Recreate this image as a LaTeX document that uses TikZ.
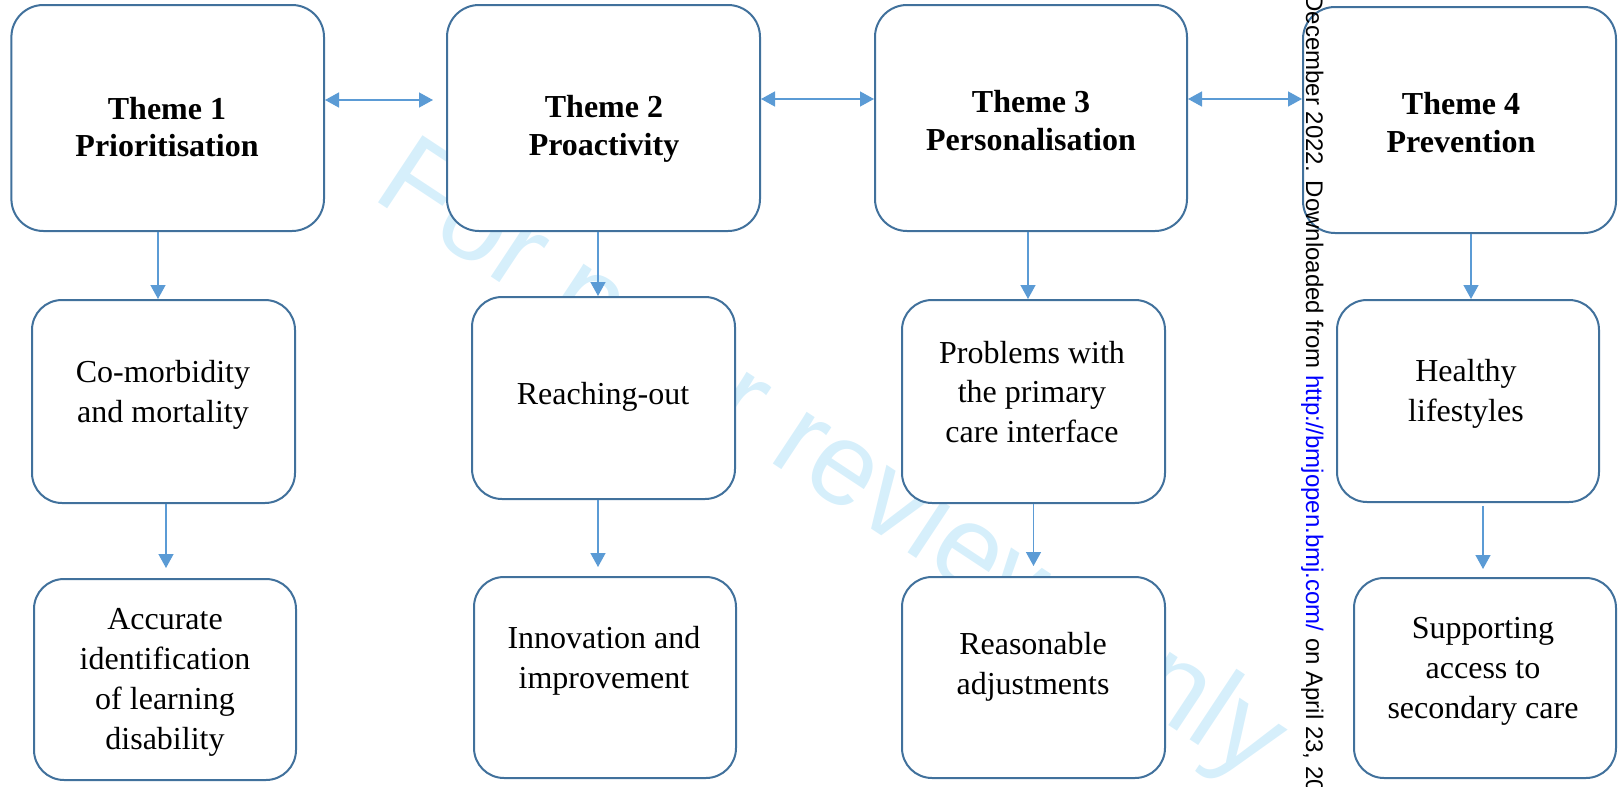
\documentclass[tikz,border=0pt]{standalone}
\usepackage{fontspec}
\setmainfont{Liberation Serif}
\newfontfamily\sansfam{Liberation Sans}
\usetikzlibrary{arrows.meta}
\definecolor{boxline}{RGB}{65,113,156}
\definecolor{arrowblue}{RGB}{91,155,213}
\definecolor{wmblue}{RGB}{214,239,251}

\begin{document}
\begin{tikzpicture}[x=0.5pt,y=-0.5pt,
  themebox/.style={draw=boxline, line width=1pt, fill=white, rounded corners=16pt, inner sep=0pt},
  subbox/.style={draw=boxline, line width=1pt, fill=white, rounded corners=15pt, inner sep=0pt},
  themetext/.style={font=\fontsize{16}{18.75}\selectfont\bfseries, align=center, inner sep=0pt},
  bodytext/.style={font=\fontsize{16}{19.9}\selectfont, align=center, inner sep=0pt},
  tip/.tip={Triangle[length=7pt,width=7.5pt]},
  arr/.style={draw=arrowblue, line width=0.7pt, -tip},
  dbl/.style={draw=arrowblue, line width=0.7pt, tip-tip},
]
\useasboundingbox (0,0) rectangle (1618,787);

% background review stamp
\node[anchor=base west, rotate=-33.5, inner sep=0pt, text=wmblue,
      font=\sansfam\fontsize{58.5}{60}\selectfont] (stamp) at (370,197) {For peer review only};

% theme boxes
\node[themebox, minimum width=156.3pt, minimum height=113pt] (T1) at (167.7,118) {};
\node[themebox, minimum width=156.5pt, minimum height=113pt] (T2) at (603.5,118) {};
\node[themebox, minimum width=156pt,   minimum height=113pt] (T3) at (1031,118) {};
\node[themebox, minimum width=156.5pt, minimum height=113pt] (T4) at (1459.5,120) {};

\node[themetext] (T1t) at (167,127)   {Theme 1\\Prioritisation};
\node[themetext] (T2t) at (604,129)   {Theme 2\\Proactivity};
\node[themetext] (T3t) at (1031,120.5) {Theme 3\\Personalisation};
\node[themetext] (T4t) at (1461,122.5) {Theme 4\\Prevention};

% second row
\node[subbox, minimum width=131.5pt, minimum height=101.5pt] (A1) at (163.5,401.5) {};
\node[subbox, minimum width=131.5pt, minimum height=101pt]   (A2) at (603.5,398) {};
\node[subbox, minimum width=131.5pt, minimum height=101.5pt] (A3) at (1033.5,401.5) {};
\node[subbox, minimum width=131pt,   minimum height=101pt]   (A4) at (1468,401) {};

\node[bodytext] (A1t) at (163,395)  {Co-morbidity\\and mortality};
\node[bodytext] (A2t) at (603,397)  {Reaching-out};
\node[bodytext] (A3t) at (1032,392) {Problems with\\the primary\\care interface};
\node[bodytext] (A4t) at (1466,394) {Healthy\\lifestyles};

% third row
\node[subbox, minimum width=131pt,   minimum height=100.5pt] (B1) at (165,679.5) {};
\node[subbox, minimum width=131pt,   minimum height=100.5pt] (B2) at (605,677.5) {};
\node[subbox, minimum width=131.5pt, minimum height=100.5pt] (B3) at (1033.5,677.5) {};
\node[subbox, minimum width=131pt,   minimum height=100pt]   (B4) at (1485,678) {};

\node[bodytext] (B1t) at (165,682.5)  {Accurate\\identification\\of learning\\disability};
\node[bodytext] (B2t) at (604,661)    {Innovation and\\improvement};
\node[bodytext] (B3t) at (1033,667)   {Reasonable\\adjustments};
\node[bodytext] (B4t) at (1483,671.5) {Supporting\\access to\\secondary care};

% links between themes
\draw[dbl] ([yshift=9pt]T1.east) -- ([yshift=9pt]T1.east -| T2.west) [shorten >=6.5pt];
\draw[dbl] ([yshift=9.5pt]T2.east) -- ([yshift=9.5pt]T2.east -| T3.west);
\draw[dbl] ([yshift=9.5pt]T3.east) -- ([yshift=9.5pt]T3.east -| T4.west);

% themes to first sub-themes
\draw[arr] ([xshift=-4.85pt]T1.south) -- ([xshift=-4.85pt]T1.south |- A1.north);
\draw[arr] ([xshift=-2.75pt]T2.south) -- ([xshift=-2.75pt]T2.south |- A2.north);
\draw[arr] ([xshift=-1.5pt]T3.south)  -- ([xshift=-1.5pt]T3.south |- A3.north);
\draw[arr] ([xshift=5.75pt]T4.south)  -- ([xshift=5.75pt]T4.south |- A4.north);

% first to second sub-themes
\draw[arr, shorten >=5pt]   ([xshift=1.25pt]A1.south)  -- ([xshift=1.25pt]A1.south |- B1.north);
\draw[arr, shorten >=4.5pt] ([xshift=-2.75pt]A2.south) -- ([xshift=-2.75pt]A2.south |- B2.north);
\draw[arr, shorten >=5pt]   (A3.south) -- (A3.south |- B3.north);
\draw[arr, shorten >=4pt, shorten <=1.5pt] ([xshift=7.5pt]A4.south) -- ([xshift=7.5pt]A4.south |- B4.north);

% download note along the margin
\node[anchor=base west, rotate=-90, inner sep=0pt, font=\sansfam\fontsize{12}{14}\selectfont]
  (dl) at (1306,-6) {December 2022. Downloaded from \textcolor{blue}{http://bmjopen.bmj.com/} on April 23, 20};
\end{tikzpicture}
\end{document}
